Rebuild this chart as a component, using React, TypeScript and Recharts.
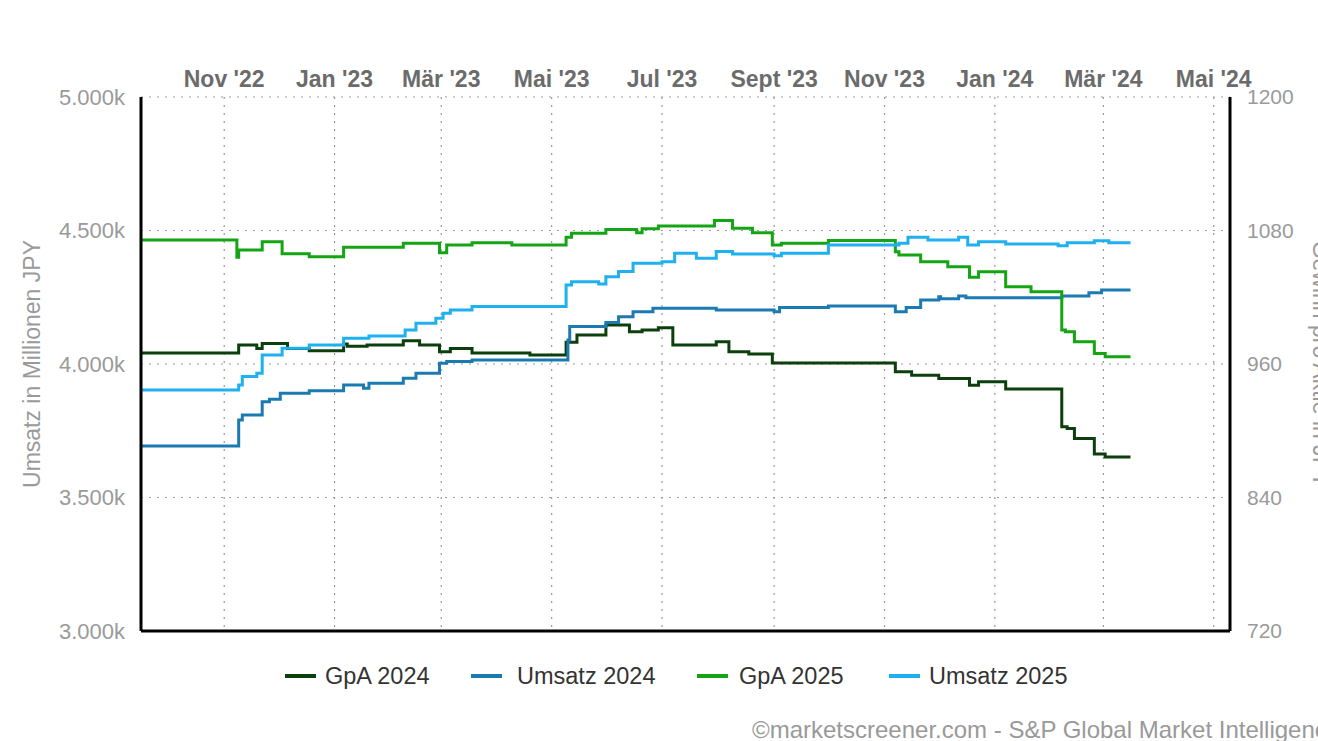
import React from 'react';
import { LineChart, Line, XAxis, YAxis, CartesianGrid } from 'recharts';

// ---------- data ----------
const gpa2024Dates = ['2022-09-16','2022-11-09','2022-11-19','2022-11-22','2022-12-06','2022-12-18','2023-01-06','2023-01-08','2023-01-19','2023-02-08','2023-02-17','2023-02-28','2023-03-06','2023-03-18','2023-04-19','2023-05-09','2023-05-15','2023-05-31','2023-06-13','2023-06-20','2023-06-29','2023-07-07','2023-07-31','2023-08-07','2023-08-18','2023-08-31','2023-11-07','2023-11-16','2023-12-01','2023-12-18','2023-12-23','2024-01-07','2024-02-07','2024-02-10','2024-02-14','2024-02-25','2024-03-02','2024-03-16'];
const gpa2024Values = [970,977,974,978.5,974,972,978,976,977,981,977,971,974,970,968,979.5,986,995,989,990.5,992.5,977,980,971,969,961,953,950,947,941,944,937.5,903.5,902,893,879,876.5,876.5];

const umsatz2024Dates = ['2022-09-16','2022-11-09','2022-11-11','2022-11-22','2022-11-26','2022-12-02','2022-12-18','2023-01-06','2023-01-17','2023-01-20','2023-02-08','2023-02-15','2023-02-28','2023-03-04','2023-03-18','2023-05-10','2023-05-11','2023-05-31','2023-06-07','2023-06-15','2023-06-26','2023-07-31','2023-09-01','2023-09-04','2023-10-01','2023-11-07','2023-11-13','2023-11-21','2023-12-01','2023-12-02','2023-12-12','2023-12-16','2024-02-07','2024-02-22','2024-02-29','2024-03-16'];
const umsatz2024Values = [3693,3790,3809,3859,3868,3890,3900,3921,3909,3928,3947,3965,4003,4009,4015,4090,4140,4155,4177,4196,4209,4202,4196,4212,4217,4196,4212,4240,4252,4244,4255,4248,4255,4267,4277,4277];

const gpa2025Dates = ['2022-09-16','2022-11-08','2022-11-09','2022-11-22','2022-12-03','2022-12-18','2023-01-06','2023-02-08','2023-02-28','2023-03-04','2023-03-18','2023-04-09','2023-05-09','2023-05-12','2023-05-31','2023-06-17','2023-06-20','2023-06-29','2023-07-30','2023-08-09','2023-08-20','2023-08-31','2023-09-05','2023-10-01','2023-11-07','2023-11-09','2023-11-21','2023-12-06','2023-12-18','2023-12-23','2024-01-07','2024-01-21','2024-02-07','2024-02-09','2024-02-14','2024-02-25','2024-03-02','2024-03-16'];
const gpa2025Values = [1071.5,1056,1062.5,1070,1059,1056.5,1065,1068.5,1060,1067,1069,1067,1074,1077.5,1081,1078,1081.5,1084,1089,1082,1078,1067,1068.5,1071,1061,1058,1052,1047.5,1038,1043,1029.5,1025,990.5,989,980,969.5,966.5,966.5];

const umsatz2025Dates = ['2022-09-16','2022-11-09','2022-11-11','2022-11-19','2022-11-22','2022-12-03','2022-12-18','2023-01-06','2023-01-20','2023-02-09','2023-02-15','2023-02-26','2023-03-02','2023-03-06','2023-03-18','2023-05-09','2023-05-12','2023-05-27','2023-05-31','2023-06-07','2023-06-15','2023-07-01','2023-07-08','2023-07-20','2023-07-31','2023-08-09','2023-09-01','2023-09-05','2023-10-01','2023-11-09','2023-11-14','2023-11-25','2023-12-12','2023-12-17','2023-12-23','2024-01-07','2024-02-05','2024-02-10','2024-02-25','2024-03-04','2024-03-16'];
const umsatz2025Values = [3903,3921,3953,3965,4034,4059,4071,4096,4105,4127,4153,4171,4190,4202,4215,4296,4308,4300,4327,4346,4377,4383,4415,4396,4421,4412,4405,4415,4446,4452,4475,4464,4475,4446,4458,4449,4443,4454,4462,4454,4454];

const monthTickDates = ['2022-11-01','2023-01-01','2023-03-01','2023-05-01','2023-07-01','2023-09-01','2023-11-01','2024-01-01','2024-03-01','2024-05-01'];
const monthTickLabels = ["Nov '22","Jan '23","Mär '23","Mai '23","Jul '23","Sept '23","Nov '23","Jan '24","Mär '24","Mai '24"];
const xDomainDates = ['2022-09-16', '2024-05-10'];

const leftTicks = [3000, 3500, 4000, 4500, 5000];
const rightTicks = [720, 840, 960, 1080, 1200];

const seriesNames = ['GpA 2024', 'Umsatz 2024', 'GpA 2025', 'Umsatz 2025'];
const seriesColors = ['#0b3f0b', '#1c7ab2', '#14a414', '#1fb0ef'];
const seriesAxes = ['right', 'left', 'right', 'left'];

const leftAxisTitle = 'Umsatz in Millionen JPY';
const rightAxisTitle = 'Gewinn pro Aktie in JPY';
const creditText = '©marketscreener.com - S&P Global Market Intelligence';

// ---------- helpers ----------
const FONT = '"Liberation Sans", Arial, Helvetica, sans-serif';
const toTs = (s: string) => {
  const [y, m, d] = s.split('-').map(Number);
  return Date.UTC(y, m - 1, d);
};
const build = (dates: string[], values: number[]) => dates.map((d, i) => ({ t: toTs(d), v: values[i] }));

const seriesData = [
  build(gpa2024Dates, gpa2024Values),
  build(umsatz2024Dates, umsatz2024Values),
  build(gpa2025Dates, gpa2025Values),
  build(umsatz2025Dates, umsatz2025Values),
];

const fmtLeft = (v: number) => `${(v / 1000).toFixed(3)}k`;

export default function App() {
  const xTicks = monthTickDates.map(toTs);
  const labelMap = new Map<number, string>(xTicks.map((t, i) => [t, monthTickLabels[i]]));
  const xDomain = xDomainDates.map(toTs);

  const legendLineX = [285, 471, 697, 889];
  const legendTextX = [325, 517, 739, 929];

  return (
    <div style={{ position: 'absolute', left: 0, top: 0, width: 1318, height: 741, background: '#fff', overflow: 'hidden', fontFamily: FONT }}>
      <LineChart width={1318} height={741} margin={{ top: 57, right: 28, bottom: 100, left: 12 }}>
        <CartesianGrid xAxisId="top" yAxisId="left" stroke="#9a9a9a" strokeWidth={1.2} strokeDasharray="2 6" />
        <XAxis
          xAxisId="top"
          orientation="top"
          type="number"
          dataKey="t"
          domain={xDomain}
          allowDataOverflow
          ticks={xTicks}
          interval={0}
          tickFormatter={(t: number) => labelMap.get(t) ?? ''}
          height={40}
          axisLine={false}
          tickLine={false}
          tickSize={0}
          tickMargin={10}
          tick={{ fill: '#6b6b6b', fontSize: 23, fontWeight: 'bold', fontFamily: FONT }}
        />
        <XAxis
          xAxisId="bottom"
          orientation="bottom"
          type="number"
          dataKey="t"
          domain={xDomain}
          allowDataOverflow
          height={10}
          tick={false}
          tickLine={false}
          axisLine={{ stroke: '#000', strokeWidth: 3 }}
        />
        <YAxis
          yAxisId="left"
          orientation="left"
          type="number"
          domain={[3000, 5000]}
          ticks={leftTicks}
          interval={0}
          tickFormatter={fmtLeft}
          width={129}
          axisLine={{ stroke: '#000', strokeWidth: 3 }}
          tickLine={false}
          tickSize={0}
          tickMargin={16}
          tick={{ fill: '#9a9a9a', fontSize: 22, fontFamily: FONT }}
        />
        <YAxis
          yAxisId="right"
          orientation="right"
          type="number"
          domain={[720, 1200]}
          ticks={rightTicks}
          interval={0}
          width={60}
          axisLine={{ stroke: '#000', strokeWidth: 3 }}
          tickLine={false}
          tickSize={0}
          tickMargin={17}
          tick={{ fill: '#9a9a9a', fontSize: 21, fontFamily: FONT }}
        />
        {seriesData.map((d, i) => (
          <Line
            key={seriesNames[i]}
            name={seriesNames[i]}
            data={d}
            dataKey="v"
            xAxisId="top"
            yAxisId={seriesAxes[i]}
            type="stepAfter"
            stroke={seriesColors[i]}
            strokeWidth={3}
            dot={false}
            activeDot={false}
            isAnimationActive={false}
          />
        ))}
      </LineChart>
      <svg width={1318} height={741} style={{ position: 'absolute', left: 0, top: 0, pointerEvents: 'none' }}>
        <text
          x={40}
          y={364}
          transform="rotate(-90 40 364)"
          textAnchor="middle"
          fill="#9a9a9a"
          fontSize={23}
          fontFamily={FONT}
        >
          {leftAxisTitle}
        </text>
        <text
          x={1313}
          y={364}
          transform="rotate(90 1313 364)"
          textAnchor="middle"
          fill="#9a9a9a"
          fontSize={23}
          fontFamily={FONT}
        >
          {rightAxisTitle}
        </text>
        {seriesNames.map((n, i) => (
          <g key={n}>
            <line x1={legendLineX[i]} x2={legendLineX[i] + 31} y1={676} y2={676} stroke={seriesColors[i]} strokeWidth={4} />
            <text x={legendTextX[i]} y={684} fill="#333" fontSize={23.5} fontFamily={FONT}>
              {n}
            </text>
          </g>
        ))}
        <text x={752} y={738} fill="#999" fontSize={24} fontFamily={FONT}>
          {creditText}
        </text>
      </svg>
    </div>
  );
}
